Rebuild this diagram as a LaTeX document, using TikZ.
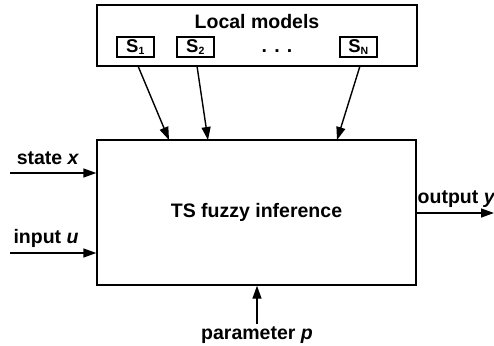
\documentclass[tikz,border=0pt]{standalone}
\usepackage{fontspec}
\setmainfont{Liberation Sans}
\usetikzlibrary{arrows.meta}
\begin{document}
\begin{tikzpicture}[x=1pt,y=-1pt,
  line width=1.4pt,
  big/.style={font=\fontsize{19.5}{21}\selectfont\bfseries, inner sep=0pt},
  sbox/.style={draw, line width=1.3pt, minimum width=37pt, minimum height=20pt, inner sep=0pt, font=\fontsize{18.5}{20}\selectfont\bfseries},
  arr/.style={-{Triangle[length=13pt,width=9pt]}},
]
\useasboundingbox (0,0) rectangle (494,345);
% local models box
\node[draw, minimum width=320pt, minimum height=61pt, inner sep=0pt] (local) at (257,35.5) {};
\node[big] (title) at (257,22) {Local models};
\node[sbox] (s1) at (135.5,47) {S\textsubscript{\fontsize{10.5}{11}\selectfont 1}};
\node[sbox] (s2) at (195.5,47) {S\textsubscript{\fontsize{10.5}{11}\selectfont 2}};
\node[sbox] (sn) at (358.5,47) {S\textsubscript{\fontsize{10.5}{11}\selectfont N}};
\node[big] (dots) at (277,51) {. . .};
% main box
\node[draw, minimum width=319pt, minimum height=145pt, inner sep=0pt, big] (main) at (256.5,212.5) {TS fuzzy inference};
% connectors from local models
\coordinate (a1) at (138,66);
\coordinate (a2) at (197,66);
\coordinate (a3) at (360,66);
\coordinate (b1) at (169,140);
\coordinate (b2) at (208,140);
\coordinate (b3) at (337,140);
\draw[arr] (a1) -- (b1);
\draw[arr] (a2) -- (b2);
\draw[arr] (a3) -- (b3);
% inputs
\coordinate (xs) at (10,173);
\coordinate (us) at (10,253);
\draw[arr] (xs) -- (xs -| main.west);
\draw[arr] (us) -- (us -| main.west);
\node[big] (xl) at (48,158) {state \textit{x}};
\node[big] (ul) at (46,238) {input \textit{u}};
% output
\coordinate (ye) at (494,213);
\draw[arr] (main.east |- ye) -- (ye);
\node[big, anchor=base west] (yl) at (417,203) {output \textit{y}};
% parameter
\coordinate (ps) at (257,324);
\draw[arr] (ps) -- (ps |- main.south);
\node[big] (pl) at (257,335) {parameter \textit{p}};
\end{tikzpicture}
\end{document}
